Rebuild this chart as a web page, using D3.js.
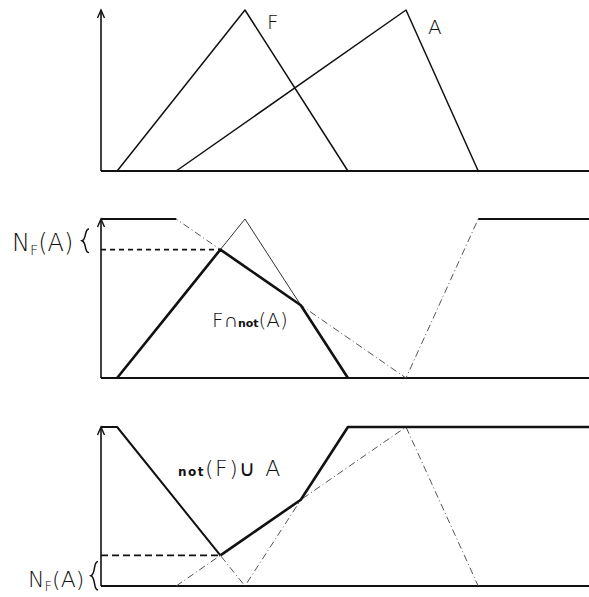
<!DOCTYPE html>
<html>
<head>
<meta charset="utf-8">
<script src="https://cdn.jsdelivr.net/npm/d3@7"></script>
<style>
  html, body { margin: 0; padding: 0; background: #fff; }
  svg { display: block; }
  text { font-family: "DejaVu Sans", sans-serif; fill: #111; }
</style>
</head>
<body>
<svg id="chart" width="589" height="597"></svg>
<script>
// Triangular fuzzy sets on the universe [0, 10]: [x, membership] break points
const setF = [[0.33, 0], [2.95, 1], [5.06, 0]];
const setA = [[1.54, 0], [6.25, 1], [7.73, 0]];
const universe = [0, 10];

// Panel labels
const labelF = "F";
const labelA = "A";
const labelN = ["N", "F", "(A)"];

// Piecewise-linear membership evaluation
function mu(pts, x) {
  if (x <= pts[0][0]) return pts[0][1];
  if (x >= pts[pts.length - 1][0]) return pts[pts.length - 1][1];
  for (let i = 0; i < pts.length - 1; i++) {
    const [x0, y0] = pts[i], [x1, y1] = pts[i + 1];
    if (x >= x0 && x <= x1) return y0 + (y1 - y0) * (x - x0) / (x1 - x0);
  }
  return 0;
}
// Extend a set over the whole universe
function full(pts) {
  return [[universe[0], pts[0][1]], ...pts, [universe[1], pts[pts.length - 1][1]]];
}
const complement = pts => pts.map(([x, y]) => [x, 1 - y]);

// Combine two piecewise-linear sets with min / max, including crossing points
function combine(p, q, op) {
  let xs = Array.from(new Set([...p.map(d => d[0]), ...q.map(d => d[0])])).sort((a, b) => a - b);
  const out = [];
  for (let i = 0; i < xs.length; i++) {
    const x = xs[i];
    out.push([x, op(mu(p, x), mu(q, x))]);
    if (i < xs.length - 1) {
      const xn = xs[i + 1];
      const d0 = mu(p, x) - mu(q, x), d1 = mu(p, xn) - mu(q, xn);
      if (d0 * d1 < 0) {
        const xc = x + (xn - x) * d0 / (d0 - d1);
        out.push([xc, mu(p, xc)]);
      }
    }
  }
  return out;
}

const F = full(setF), A = full(setA);
const notF = complement(F), notA = complement(A);
const FandNotA = combine(F, notA, Math.min);
const notForA = combine(notF, A, Math.max);
const possNot = d3.max(FandNotA, d => d[1]);      // height of F ∩ not(A)
const necessity = d3.min(notForA, d => d[1]);     // N_F(A)

const svg = d3.select("#chart");
const x = d3.scaleLinear().domain(universe).range([101, 589]);

const panels = [
  { base: 171, top: 10 },
  { base: 378, top: 219 },
  { base: 586, top: 427 }
];

function frame(g, y) {
  // x axis
  g.append("line").attr("x1", x(0)).attr("x2", x(10))
    .attr("y1", y(0)).attr("y2", y(0))
    .attr("stroke", "#111").attr("stroke-width", 2);
  // y axis with arrow
  g.append("line").attr("x1", x(0)).attr("x2", x(0))
    .attr("y1", y(0)).attr("y2", y(1))
    .attr("stroke", "#111").attr("stroke-width", 1.6);
  g.append("path")
    .attr("d", `M${x(0) - 3.5},${y(1) + 8} L${x(0)},${y(1)} L${x(0) + 3.5},${y(1) + 8}`)
    .attr("fill", "none").attr("stroke", "#111").attr("stroke-width", 1.4);
}

function curve(g, y, pts, w, dash, color) {
  const line = d3.line().x(d => x(d[0])).y(d => y(d[1]));
  g.append("path").attr("d", line(pts))
    .attr("fill", "none").attr("stroke", color || "#111")
    .attr("stroke-width", w)
    .attr("stroke-linejoin", "round")
    .attr("stroke-dasharray", dash || null);
}

// Draw only the segments of a set lying on a given membership level
function flats(g, y, pts, level, w) {
  for (let i = 0; i < pts.length - 1; i++) {
    if (pts[i][1] === level && pts[i + 1][1] === level && pts[i + 1][0] > pts[i][0]) {
      curve(g, y, [pts[i], pts[i + 1]], w);
    }
  }
}

function nLabel(g, xPos, yPos, size) {
  const t = g.append("text").attr("x", xPos).attr("y", yPos)
    .attr("font-size", size).attr("font-weight", 300);
  t.append("tspan").text(labelN[0]);
  t.append("tspan").attr("font-size", size * 0.6).attr("dy", 4).text(labelN[1]);
  t.append("tspan").attr("dy", -4).text(labelN[2]);
}

function brace(g, xPos, y0, y1) {
  const m = (y0 + y1) / 2;
  const top = Math.min(y0, y1), bot = Math.max(y0, y1);
  g.append("path")
    .attr("d", `M${xPos + 5},${top} C${xPos},${top} ${xPos + 3},${m - 2} ${xPos - 2},${m}
                C${xPos + 3},${m + 2} ${xPos},${bot} ${xPos + 5},${bot}`)
    .attr("fill", "none").attr("stroke", "#111").attr("stroke-width", 1.5);
}

// Panel 1: F and A
{
  const p = panels[0];
  const y = d3.scaleLinear().domain([0, 1]).range([p.base, p.top]);
  const g = svg.append("g");
  frame(g, y);
  curve(g, y, setF, 1.5);
  curve(g, y, setA, 1.5);
  g.append("text").attr("x", x(setF[1][0]) + 22).attr("y", y(1) + 19)
    .attr("font-size", 20).attr("font-weight", 300).text(labelF);
  g.append("text").attr("x", x(setA[1][0]) + 22).attr("y", y(1) + 24)
    .attr("font-size", 20).attr("font-weight", 300).text(labelA);
}

// Panel 2: F ∩ not(A)
{
  const p = panels[1];
  const y = d3.scaleLinear().domain([0, 1]).range([p.base, p.top]);
  const g = svg.append("g");
  frame(g, y);
  curve(g, y, setF, 1, null, "#333");
  curve(g, y, notA, 1, "7,3,1,3", "#555");
  flats(g, y, notA, 1, 1.8);
  const peak = FandNotA.find(d => d[1] === possNot);
  g.append("line").attr("x1", x(0)).attr("x2", x(peak[0]))
    .attr("y1", y(possNot)).attr("y2", y(possNot))
    .attr("stroke", "#111").attr("stroke-width", 1.8)
    .attr("stroke-dasharray", "5,4");
  curve(g, y, FandNotA.filter(d => d[0] >= setF[0][0] && d[0] <= setF[2][0]), 2.6);
  const t = g.append("text").attr("x", 212).attr("y", 327).attr("font-size", 20).attr("font-weight", 300);
  t.append("tspan").text("F∩");
  t.append("tspan").attr("font-size", 11).attr("font-weight", "bold").text("not");
  t.append("tspan").text("(A)");
  nLabel(g, 12, 251, 24);
  brace(g, 84, y(1) + 10, y(possNot) + 3);
}

// Panel 3: not(F) ∪ A
{
  const p = panels[2];
  const y = d3.scaleLinear().domain([0, 1]).range([p.base, p.top]);
  const g = svg.append("g");
  frame(g, y);
  curve(g, y, notF, 1, "7,3,1,3", "#555");
  curve(g, y, setA, 1, "7,3,1,3", "#555");
  const low = notForA.find(d => d[1] === necessity);
  g.append("line").attr("x1", x(0)).attr("x2", x(low[0]))
    .attr("y1", y(necessity)).attr("y2", y(necessity))
    .attr("stroke", "#111").attr("stroke-width", 1.8)
    .attr("stroke-dasharray", "7,4");
  curve(g, y, notForA.filter(d => d[0] <= low[0]), 2);
  curve(g, y, notForA.filter(d => d[0] >= low[0]), 2.6);
  const t = g.append("text").attr("x", 178).attr("y", 476).attr("font-size", 22)
    .attr("font-weight", 300).attr("letter-spacing", 1.5);
  t.append("tspan").attr("font-size", 12).attr("font-weight", "bold").text("not");
  t.append("tspan").text("(F)∪ A");
  nLabel(g, 28, 587, 22);
  brace(g, 93, y(necessity) + 6, y(0) + 4);
}
</script>
</body>
</html>
